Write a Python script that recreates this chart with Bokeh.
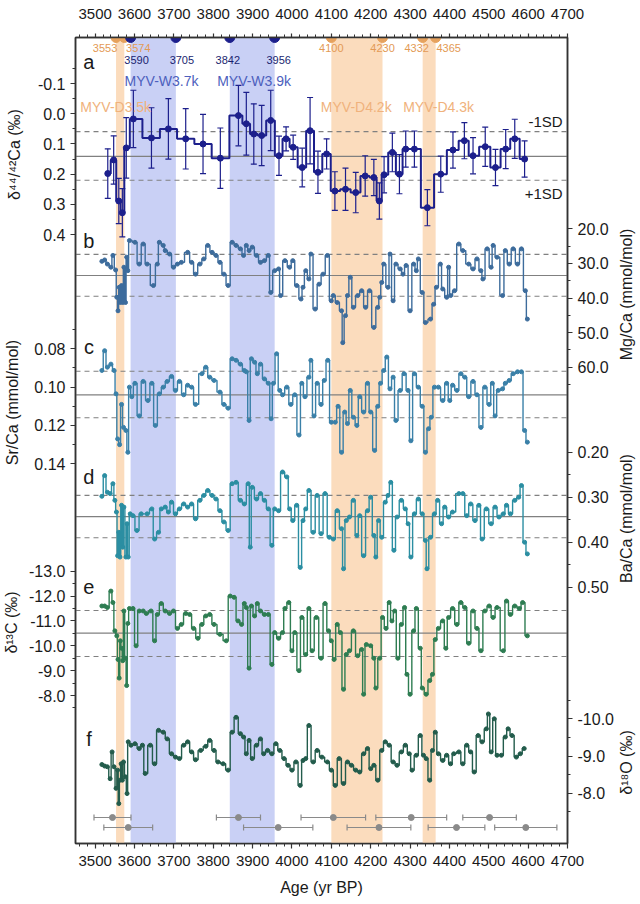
import math
from bokeh.plotting import figure
from bokeh.layouts import row
from bokeh.models import (Range1d, LinearAxis, FixedTicker, Label, ColumnDataSource,
                          BoxAnnotation, Span)
from bokeh.core.properties import value
from bokeh.embed import file_html
from bokeh.resources import INLINE

# ---------------- data ----------------
# (a) delta44/42Ca with 2-sigma error
a_age = [3532,3547,3560,3569,3579,3597,3643,3686,3730,3774,3818,3864,3884,3903,3923,3946,3967,3985,4003,4026,
         4046,4066,4088,4109,4136,4162,4186,4208,4222,4234,4255,4273,4289,4311,4344,4378,4409,4438,4460,4491,
         4517,4543,4566,4591]
a_val = [0.198,0.153,0.289,0.328,0.113,0.017,0.080,0.050,0.083,0.100,0.147,0.006,0.033,0.067,0.072,0.022,0.139,0.083,0.111,0.178,
         0.056,0.194,0.133,0.256,0.250,0.261,0.206,0.211,0.289,0.202,0.128,0.200,0.117,0.117,0.311,0.200,0.120,0.089,0.139,0.109,
         0.178,0.117,0.083,0.150]
a_err = [0.082,0.08,0.075,0.08,0.1,0.095,0.1,0.1,0.1,0.098,0.1,0.1,0.104,0.1,0.1,0.1,0.065,0.04,0.04,0.064,
         0.11,0.07,0.05,0.064,0.07,0.067,0.067,0.06,0.06,0.06,0.064,0.065,0.06,0.06,0.06,0.06,0.06,0.06,0.06,0.065,
         0.06,0.065,0.065,0.06]
a_mean, a_sd_lo, a_sd_hi = 0.141, 0.059, 0.220

# (b) Mg/Ca (mmol/mol)
b_age = [3517,3524,3531,3540,3545,3552,3555,3558,3561,3564,3567,3570,3573,3577,3580,3583,3587,3601,3612,3622,
         3632,3648,3658,3663,3673,3678,3689,3699,3709,3719,3735,3745,3755,3766,3776,3786,3797,3807,3817,3827,
         3838,3848,3858,3869,3877,3884,3891,3899,3910,3920,3930,3940,3946,3956,3966,3971,3982,3994,4002,4012,
         4023,4028,4035,4043,4048,4059,4069,4079,4090,4100,4105,4115,4126,4129,4136,4141,4148,4156,4167,4177,
         4187,4197,4208,4218,4223,4228,4233,4244,4249,4257,4264,4275,4282,4290,4300,4309,4316,4321,4331,4339,
         4352,4360,4367,4377,4383,4393,4398,4403,4413,4424,4434,4449,4460,4470,4480,4485,4496,4506,4511,4521,
         4535,4542,4552,4562,4573,4583,4593,4598]
b_val = [29.4,29.0,30.2,31.1,27.7,31.9,39.8,43.7,36.9,41.3,36.4,41.3,31.1,41.3,28.2,32.1,23.4,23.9,30.2,24.4,
         30.2,36.4,30.2,23.9,24.8,26.3,27.3,31.1,30.2,29.7,26.8,29.7,33.1,30.2,28.7,24.8,26.8,27.7,29.7,33.1,
         36.4,23.9,24.8,25.8,27.7,24.8,26.3,25.3,27.7,29.7,29.2,27.7,38.4,32.1,31.6,39.3,29.2,31.1,29.2,36.4,
         40.3,36.9,32.1,34.5,27.3,43.2,36.0,33.1,27.7,40.8,39.3,41.3,43.7,52.9,45.1,39.3,34.0,42.7,39.3,37.9,
         42.7,37.9,48.5,42.7,39.8,35.5,30.2,36.9,27.3,40.8,30.2,31.6,33.1,30.6,43.7,30.2,32.1,28.7,38.4,47.1,
         46.1,41.8,36.9,30.2,37.4,39.8,31.1,39.3,37.9,24.4,26.3,30.2,31.6,28.7,32.1,34.5,25.8,31.1,24.8,28.2,
         39.3,26.3,30.2,25.8,30.2,25.8,37.9,46.1]
b_mean, b_sd_lo, b_sd_hi = 33.5, 27.4, 39.5

# (c) Sr/Ca (mmol/mol)
c_age = [3517,3524,3531,3540,3548,3553,3557,3562,3567,3572,3578,3583,3587,3593,3601,3612,3622,3634,3644,3653,
         3663,3673,3683,3694,3704,3714,3725,3735,3745,3755,3771,3781,3791,3802,3817,3827,3838,3848,3858,3869,
         3879,3884,3891,3897,3905,3912,3920,3930,3940,3947,3953,3961,3969,3976,3987,3997,4007,4018,4025,4033,
         4043,4048,4056,4064,4074,4082,4091,4100,4110,4117,4126,4134,4141,4148,4156,4165,4172,4182,4192,4200,
         4210,4218,4225,4233,4241,4249,4257,4264,4275,4285,4295,4302,4311,4321,4331,4339,4347,4354,4362,4372,
         4383,4393,4401,4408,4419,4429,4439,4449,4460,4470,4480,4490,4501,4509,4516,4524,4535,4542,4552,4562,
         4573,4583,4591,4598]
c_val = [0.0913,0.081,0.0896,0.088,0.0913,0.1035,0.127,0.130,0.109,0.121,0.1226,0.134,0.100,0.105,0.098,0.115,0.097,0.107,0.098,0.120,
         0.1035,0.100,0.097,0.0944,0.1017,0.097,0.104,0.099,0.100,0.109,0.093,0.0896,0.0948,0.0965,0.1026,0.109,0.111,0.0852,0.086,0.088,
         0.0913,0.092,0.1174,0.0852,0.087,0.093,0.088,0.0957,0.098,0.1165,0.098,0.0826,0.1017,0.104,0.100,0.109,0.104,0.125,0.098,0.105,
         0.0948,0.086,0.115,0.098,0.109,0.0965,0.086,0.1183,0.1183,0.110,0.134,0.113,0.119,0.1017,0.1157,0.120,0.105,0.113,0.098,0.113,
         0.133,0.110,0.098,0.0913,0.0843,0.1009,0.0948,0.1174,0.1017,0.093,0.1017,0.128,0.093,0.100,0.110,0.134,0.1217,0.1157,0.100,0.100,
         0.107,0.098,0.107,0.099,0.1017,0.093,0.0948,0.105,0.097,0.104,0.121,0.100,0.109,0.098,0.115,0.1017,0.1009,0.098,0.0965,0.093,
         0.092,0.092,0.1226,0.1287]
c_mean, c_sd_lo, c_sd_hi = 0.104, 0.0917, 0.116

# (d) Ba/Ca (mmol/mol)
d_age = [3517,3524,3531,3538,3545,3550,3554,3557,3560,3563,3567,3570,3573,3578,3581,3584,3589,3596,3606,3617,
         3632,3644,3651,3661,3668,3678,3686,3694,3704,3714,3725,3735,3745,3755,3766,3776,3786,3797,3807,3817,
         3827,3838,3848,3858,3869,3879,3889,3894,3899,3910,3920,3930,3940,3949,3956,3966,3976,3987,3994,4002,
         4012,4021,4028,4035,4043,4054,4064,4074,4084,4095,4105,4115,4126,4131,4138,4146,4156,4165,4172,4182,
         4192,4200,4208,4213,4220,4228,4237,4244,4251,4259,4267,4278,4288,4295,4302,4311,4321,4331,4339,4343,
         4352,4362,4370,4380,4388,4398,4408,4424,4434,4444,4454,4465,4475,4483,4494,4506,4516,4526,4537,4545,
         4555,4566,4576,4583,4591,4598]
d_val = [0.298,0.252,0.289,0.292,0.270,0.307,0.333,0.430,0.378,0.433,0.318,0.411,0.322,0.433,0.359,0.433,0.337,0.341,0.374,0.337,
         0.337,0.326,0.393,0.378,0.326,0.322,0.333,0.311,0.337,0.326,0.315,0.322,0.315,0.348,0.307,0.296,0.285,0.296,0.304,0.330,
         0.355,0.374,0.270,0.267,0.307,0.315,0.270,0.411,0.278,0.304,0.292,0.307,0.326,0.407,0.326,0.330,0.244,0.255,0.326,0.352,
         0.318,0.456,0.352,0.326,0.285,0.378,0.296,0.381,0.292,0.389,0.393,0.330,0.370,0.459,0.352,0.344,0.307,0.385,0.341,0.430,
         0.330,0.300,0.385,0.433,0.352,0.389,0.311,0.296,0.267,0.418,0.344,0.307,0.326,0.359,0.433,0.337,0.304,0.337,0.396,0.459,
         0.389,0.337,0.307,0.359,0.322,0.344,0.333,0.292,0.292,0.341,0.315,0.352,0.318,0.393,0.326,0.359,0.322,0.344,0.337,0.318,
         0.337,0.307,0.300,0.274,0.400,0.426]
d_mean, d_sd_lo, d_sd_hi = 0.343, 0.296, 0.390

# (e) delta13C (permil)
e_age = [3517,3524,3531,3540,3545,3550,3555,3558,3561,3564,3567,3570,3573,3577,3580,3583,3587,3596,3604,3612,
         3622,3630,3642,3651,3658,3668,3678,3689,3699,3709,3719,3730,3740,3750,3761,3771,3781,3791,3802,3817,
         3833,3843,3853,3863,3872,3879,3884,3891,3897,3905,3912,3920,3930,3940,3949,3956,3966,3976,3982,3992,
         4000,4007,4018,4025,4035,4043,4051,4062,4074,4084,4093,4100,4107,4115,4123,4131,4138,4146,4156,4167,
         4177,4182,4189,4200,4208,4213,4223,4230,4239,4247,4254,4261,4269,4278,4286,4292,4300,4309,4316,4326,
         4331,4341,4350,4357,4364,4372,4383,4391,4398,4408,4419,4429,4439,4449,4460,4470,4480,4490,4501,4511,
         4521,4537,4545,4555,4566,4578,4586,4598]
e_val = [-11.6,-11.6,-11.54,-12.2,-11.74,-10.6,-10.4,-9.45,-8.7,-10.2,-9.9,-9.4,-11.4,-9.5,-8.4,-10.9,-11.5,-11.5,-10.0,-11.4,
         -11.4,-11.3,-11.4,-10.2,-11.26,-11.7,-11.4,-11.3,-11.4,-10.7,-10.86,-11.3,-11.26,-10.7,-10.3,-10.86,-11.2,-11.26,-10.86,-10.46,
         -10.2,-12.0,-11.95,-11.0,-10.86,-11.7,-11.54,-9.1,-11.6,-11.2,-11.7,-11.4,-11.26,-11.26,-9.25,-10.53,-10.3,-10.53,-11.5,-11.74,
         -9.8,-10.53,-9.0,-11.14,-9.65,-11.5,-9.8,-11.14,-9.5,-11.7,-10.6,-10.2,-9.45,-10.86,-10.53,-8.25,-9.65,-9.8,-10.6,-9.6,
         -9.85,-8.05,-10.05,-10.0,-9.5,-8.3,-9.5,-11.14,-10.7,-11.74,-11.0,-11.4,-9.5,-10.86,-11.54,-8.85,-8.05,-10.6,-11.5,-9.9,
         -8.3,-8.05,-8.6,-8.85,-10.25,-10.7,-11.0,-9.9,-11.14,-11.5,-10.86,-11.74,-11.54,-10.1,-11.4,-10.7,-9.8,-11.4,-11.6,-11.14,
         -11.54,-9.8,-11.8,-11.26,-11.6,-11.5,-11.74,-10.4]
e_mean, e_sd_lo, e_sd_hi = -10.51, -11.42, -9.57

# (f) delta18O (permil)
f_age = [3517,3524,3531,3538,3543,3548,3553,3557,3560,3563,3566,3569,3572,3577,3581,3584,3591,3601,3612,3620,
         3627,3640,3651,3661,3673,3683,3694,3704,3714,3725,3735,3745,3755,3768,3781,3791,3802,3812,3825,3838,
         3848,3858,3869,3877,3884,3891,3899,3910,3920,3928,3938,3949,3959,3969,3980,3990,4000,4010,4021,4028,
         4035,4043,4054,4064,4076,4090,4100,4110,4120,4131,4141,4151,4162,4172,4182,4192,4200,4208,4218,4228,
         4237,4247,4257,4267,4278,4288,4298,4305,4316,4326,4334,4341,4350,4357,4364,4372,4383,4393,4403,4411,
         4424,4434,4444,4454,4463,4473,4483,4494,4499,4506,4514,4521,4532,4542,4549,4559,4570,4580,4590]
f_val = [-8.77,-8.73,-8.71,-8.39,-9.11,-8.71,-8.13,-8.62,-7.72,-8.35,-8.79,-8.35,-8.84,-8.44,-7.99,-9.38,-9.29,-9.33,-9.2,-9.29,
         -8.53,-9.29,-8.79,-9.69,-9.64,-9.46,-9.06,-8.97,-8.93,-9.29,-9.38,-9.11,-8.9,-9.15,-9.26,-9.42,-9.15,-8.84,-8.79,-8.62,
         -9.64,-10.04,-9.6,-9.51,-9.06,-9.42,-8.93,-9.29,-9.46,-9.06,-9.15,-9.06,-9.33,-9.15,-8.93,-8.75,-8.62,-8.84,-8.21,-8.88,
         -8.93,-9.82,-8.84,-9.15,-8.97,-8.84,-8.62,-8.21,-8.93,-8.26,-8.84,-8.75,-8.62,-8.57,-9.06,-9.2,-8.66,-8.75,-8.35,-9.15,
         -9.38,-9.29,-8.84,-8.75,-9.11,-9.29,-9.06,-8.62,-9.02,-9.55,-9.02,-8.93,-8.35,-9.15,-9.64,-9.06,-8.88,-9.02,-8.79,-9.06,
         -9.11,-8.79,-9.29,-9.11,-8.57,-9.55,-9.38,-9.73,-10.13,-9.11,-10.0,-9.02,-9.02,-9.51,-9.73,-9.55,-8.97,-9.06,-9.2]

# U-Th ages (yr BP) with 2-sigma errors, two rows
uth_row1 = [3544, 3864, 4105, 4303, 4502]
uth_err1 = [47, 56, 82, 90, 68]
uth_row2 = [3584, 3965, 4221, 4418, 4594]
uth_err2 = [62, 88, 81, 72, 79]

# events
dry_events = [(3553, 3574), (4100, 4230), (4332, 4365)]
wet_events = [(3590, 3705), (3842, 3956)]
event_names_dry = ["MYV-D3.5k", "MYV-D4.2k", "MYV-D4.3k"]
event_names_wet = ["MYV-W3.7k", "MYV-W3.9k"]

x_ticks = list(range(3500, 4701, 100))
x_minor = list(range(3460, 4701, 20))

left_titles = ["δ⁴⁴/⁴²Ca (‰)", "Sr/Ca (mmol/mol)", "δ¹³C (‰)"]
right_titles = ["Mg/Ca (mmol/mol)", "Ba/Ca (mmol/mol)", "δ¹⁸O (‰)"]

# ---------------- layout constants (page pixel rows / columns) ----------------
FONT = "Liberation Sans"
TXT = "#1a1a1a"
PAGE_W, PAGE_H = 640, 904
TOP_ROW, BOTTOM_ROW = 37.0, 843.0
FRAME_L, FRAME_R = 75.0, 571.0
LEFT_W, RIGHT_W = 24, 24
PX_3500, PX_PER_100 = 94.8, 39.68

def X(px):
    return 3500 + (px - PX_3500) * 100.0 / PX_PER_100

def Y(row):
    return BOTTOM_ROW - row

anchors = {
    "a": (0.0, 113.3, 0.4, 234.0),
    "b": (20.0, 228.3, 60.0, 366.7),
    "c": (0.08, 348.3, 0.14, 463.3),
    "d": (0.20, 451.7, 0.50, 586.7),
    "e": (-13.0, 570.7, -8.0, 695.0),
    "f": (-10.0, 718.3, -8.0, 792.7),
}

def row_of(name, v):
    v1, r1, v2, r2 = anchors[name]
    return r1 + (v - v1) * (r2 - r1) / (v2 - v1)

def val_at(name, r):
    v1, r1, v2, r2 = anchors[name]
    return v1 + (r - r1) * (v2 - v1) / (r2 - r1)

main_w = PAGE_W - LEFT_W - RIGHT_W
p = figure(width=main_w, height=PAGE_H, x_range=Range1d(3450, 4700),
           y_range=Range1d(0, BOTTOM_ROW - TOP_ROW),
           x_axis_type=None, y_axis_type=None,
           output_backend="svg", toolbar_location=None,
           min_border_left=int(FRAME_L - LEFT_W),
           min_border_right=int(main_w - (FRAME_R - LEFT_W)),
           min_border_top=int(TOP_ROW), min_border_bottom=int(PAGE_H - BOTTOM_ROW))
p.outline_line_color = "#333333"
p.outline_line_width = 1.5
p.extra_y_ranges = {n: Range1d(start=val_at(n, BOTTOM_ROW), end=val_at(n, TOP_ROW)) for n in anchors}

# ---------------- background bands ----------------
ORANGE_BAND = "#fbdcbd"
BLUE_BAND = "#c9d0f5"
for (l, r) in dry_events:
    p.add_layout(BoxAnnotation(left=l, right=r, fill_color=ORANGE_BAND, fill_alpha=1.0,
                               line_color=None, level="underlay"))
for (l, r) in wet_events:
    p.add_layout(BoxAnnotation(left=l, right=r, fill_color=BLUE_BAND, fill_alpha=1.0,
                               line_color=None, level="underlay"))

# ---------------- mean / SD lines ----------------
GRAY = "#808080"
for name, m, lo, hi in [("a", a_mean, a_sd_lo, a_sd_hi), ("b", b_mean, b_sd_lo, b_sd_hi),
                        ("c", c_mean, c_sd_lo, c_sd_hi), ("d", d_mean, d_sd_lo, d_sd_hi),
                        ("e", e_mean, e_sd_lo, e_sd_hi)]:
    p.add_layout(Span(location=m, dimension="width", y_range_name=name, line_color=GRAY,
                      line_width=1.2, level="underlay"))
    for v in (lo, hi):
        p.add_layout(Span(location=v, dimension="width", y_range_name=name, line_color=GRAY,
                          line_width=1.1, line_dash="5 4", level="underlay"))

# ---------------- panel a ----------------
NAVY = "#1c1f8c"
src_a = ColumnDataSource(dict(x=a_age, y=a_val,
                              lo=[v - e for v, e in zip(a_val, a_err)],
                              hi=[v + e for v, e in zip(a_val, a_err)]))
p.segment(x0="x", y0="lo", x1="x", y1="hi", source=src_a, y_range_name="a",
          line_color=NAVY, line_width=1.2)
p.scatter(x="x", y="lo", source=src_a, y_range_name="a", marker="dash", size=6,
          line_color=NAVY, line_width=1.2)
p.scatter(x="x", y="hi", source=src_a, y_range_name="a", marker="dash", size=6,
          line_color=NAVY, line_width=1.2)
p.step(x="x", y="y", source=src_a, y_range_name="a", mode="center",
       line_color=NAVY, line_width=2.0)
p.scatter(x="x", y="y", source=src_a, y_range_name="a", marker="circle", size=6,
          fill_color=NAVY, line_color=NAVY)

# ---------------- panels b - f ----------------
series = [
    ("b", b_age, b_val, "#3d6c9c"),
    ("c", c_age, c_val, "#3a80a8"),
    ("d", d_age, d_val, "#2b8ea2"),
    ("e", e_age, e_val, "#2e7d52"),
    ("f", f_age, f_val, "#235c4c"),
]
for name, xs, ys, col in series:
    n = min(len(xs), len(ys))
    src = ColumnDataSource(dict(x=xs[:n], y=ys[:n]))
    p.step(x="x", y="y", source=src, y_range_name=name, mode="center",
           line_color=col, line_width=1.4)
    p.scatter(x="x", y="y", source=src, y_range_name=name, marker="circle", size=4,
              fill_color=col, line_color=col)

# ---------------- U-Th ages ----------------
UGRAY = "#8a8a8a"
for dates, errs, r in [(uth_row1, uth_err1, 817.0), (uth_row2, uth_err2, 827.0)]:
    yy = [Y(r)] * len(dates)
    src = ColumnDataSource(dict(x=dates, y=yy,
                                l=[d - e for d, e in zip(dates, errs)],
                                r=[d + e for d, e in zip(dates, errs)]))
    p.segment(x0="l", y0="y", x1="r", y1="y", source=src, line_color=UGRAY, line_width=1.2)
    for k in ("l", "r"):
        p.scatter(x=k, y="y", source=src, marker="dash", angle=math.pi / 2, size=6,
                  line_color=UGRAY, line_width=1.2)
    p.scatter(x="x", y="y", source=src, marker="circle", size=6,
              fill_color=UGRAY, line_color=UGRAY)

# ---------------- event boundary dots on the top axis ----------------
ORANGE = "#e6a25e"
dry_bounds = [d for ev in dry_events for d in ev]
wet_bounds = [d for ev in wet_events for d in ev]
p.scatter(x=dry_bounds, y=[Y(TOP_ROW)] * len(dry_bounds), marker="circle", size=10,
          fill_color=ORANGE, line_color=ORANGE)
p.scatter(x=wet_bounds, y=[Y(TOP_ROW)] * len(wet_bounds), marker="circle", size=10,
          fill_color=NAVY, line_color=NAVY)

# ---------------- axes ----------------
AX = "#333333"

def style_axis(ax, font_size):
    ax.axis_line_color = AX
    ax.axis_line_width = 1.5
    ax.major_tick_line_color = AX
    ax.minor_tick_line_color = AX
    ax.major_tick_line_width = 1.2
    ax.minor_tick_line_width = 1.0
    ax.major_tick_in = 0
    ax.minor_tick_in = 0
    ax.major_tick_out = 5
    ax.minor_tick_out = 3
    ax.major_label_text_font = FONT
    ax.major_label_text_font_size = font_size
    ax.major_label_text_color = TXT

xt = FixedTicker(ticks=x_ticks, minor_ticks=x_minor)
xb = LinearAxis(ticker=xt, axis_label="Age (yr BP)")
style_axis(xb, "15px")
xb.major_label_standoff = 7
xb.axis_label_standoff = 10
xb.axis_label_text_font = FONT
xb.axis_label_text_font_size = "16px"
xb.axis_label_text_font_style = "normal"
xb.axis_label_text_color = TXT
p.add_layout(xb, "below")

xa = LinearAxis(ticker=xt)
style_axis(xa, "15px")
xa.major_tick_out = 4
xa.major_label_standoff = 15
p.add_layout(xa, "above")

def y_axis(side, specs):
    ticks, minors, labels = [], [], {}
    for name, majors, fmt, mins in specs:
        for v in majors:
            t = round(Y(row_of(name, v)), 3)
            ticks.append(t)
            labels[t] = fmt.format(v)
        for v in mins:
            minors.append(round(Y(row_of(name, v)), 3))
    ax = LinearAxis(ticker=FixedTicker(ticks=ticks, minor_ticks=minors),
                    major_label_overrides=labels)
    style_axis(ax, "16px")
    ax.major_label_standoff = 5
    p.add_layout(ax, side)

y_axis("left", [
    ("a", [-0.1, 0.0, 0.1, 0.2, 0.3, 0.4], "{:.1f}", [-0.15, -0.05, 0.05, 0.15, 0.25, 0.35]),
    ("c", [0.08, 0.10, 0.12, 0.14], "{:.2f}", [0.07, 0.09, 0.11, 0.13]),
    ("e", [-13.0, -12.0, -11.0, -10.0, -9.0, -8.0], "{:.1f}", [-12.5, -11.5, -10.5, -9.5, -8.5, -7.5]),
])
y_axis("right", [
    ("b", [20.0, 30.0, 40.0, 50.0, 60.0], "{:.1f}", [25.0, 35.0, 45.0, 55.0, 65.0]),
    ("d", [0.20, 0.30, 0.40, 0.50], "{:.2f}", [0.25, 0.35, 0.45]),
    ("f", [-10.0, -9.0, -8.0], "{:.1f}", [-10.5, -9.5, -8.5, -7.5]),
])

# ---------------- text annotations inside the frame ----------------
def label(text, px, r, size, color, align="center", x_data=None, x_off=0):
    p.add_layout(Label(x=X(px) if x_data is None else x_data, y=Y(r), text=text,
                       x_offset=x_off, text_font=FONT, text_font_size=size,
                       text_color=color, text_align=align, text_baseline="middle"))

for letter, r in zip("abcdef", [61.7, 240.0, 346.7, 476.7, 586.7, 738.0]):
    label(letter, 88.5, r, "20px", TXT)

MYV_D = "#f0b27c"
MYV_W = "#4d5fbd"
for txt, px in zip(event_names_dry, [115.5, 358.0, 441.0]):
    label(txt, px, 106.5, "14px", MYV_D)
for txt, px in zip(event_names_wet, [161.7, 255.0]):
    label(txt, px, 80.0, "14px", MYV_W)

label("-1SD", 566, 121, "15px", TXT, align="right")
label("+1SD", 566, 193, "15px", TXT, align="right")

DATE_OR = "#e39a55"
DATE_NV = "#1a1f70"
dry_offsets = [-11, 14, 0, 0, -6, 13]
wet_offsets = [6, 6, -2, 4]
for d, off in zip(dry_bounds, dry_offsets):
    label(str(d), 0, 47.7, "11px", DATE_OR, x_data=d, x_off=off)
for d, off in zip(wet_bounds, wet_offsets):
    label(str(d), 0, 59.3, "11px", DATE_NV, x_data=d, x_off=off)

# ---------------- side strips holding the rotated axis titles ----------------
def side_strip(width, titles, cols, rows):
    s = figure(width=width, height=PAGE_H, x_range=Range1d(0, width),
               y_range=Range1d(0, BOTTOM_ROW - TOP_ROW),
               x_axis_type=None, y_axis_type=None, output_backend="svg",
               toolbar_location=None, min_border_left=0, min_border_right=0,
               min_border_top=int(TOP_ROW), min_border_bottom=int(PAGE_H - BOTTOM_ROW))
    s.outline_line_color = None
    s.text(x=cols, y=[Y(r) for r in rows], text=titles, angle=math.pi / 2,
           text_font=value(FONT), text_font_size="16px", text_color=TXT,
           text_align="center", text_baseline="middle")
    return s

left = side_strip(LEFT_W, left_titles, [14, 12, 11], [154, 402, 622])
right = side_strip(RIGHT_W, right_titles, [10, 10, 10], [294, 518, 762])

layout = row(left, p, right, spacing=0)
open("out.html", "w").write(file_html(layout, INLINE))
